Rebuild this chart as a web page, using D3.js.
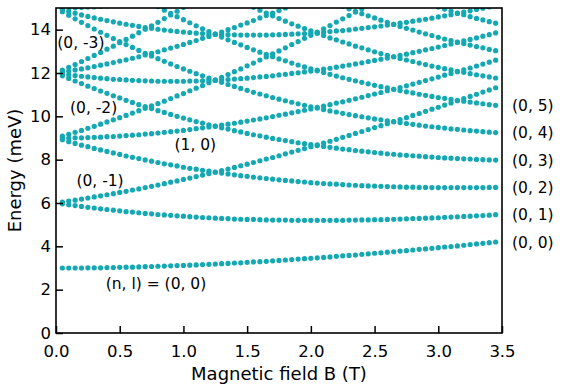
<!DOCTYPE html>
<html><head><meta charset="utf-8">
<script src="https://cdn.jsdelivr.net/npm/d3@7"></script>
<style>
body{margin:0;background:#fff}
svg{display:block}
text{font-family:"DejaVu Sans",sans-serif;fill:#000}
</style>
</head><body>
<svg id="c" width="562" height="392"></svg>
<script>
// Magnetic field values (T) of the plotted points
const B = [0.05,0.10,0.15,0.20,0.25,0.30,0.35,0.40,0.45,0.50,
0.55,0.60,0.65,0.70,0.75,0.80,0.85,0.90,0.95,1.00,
1.05,1.10,1.15,1.20,1.25,1.30,1.35,1.40,1.45,1.50,
1.55,1.60,1.65,1.70,1.75,1.80,1.85,1.90,1.95,2.00,
2.05,2.10,2.15,2.20,2.25,2.30,2.35,2.40,2.45,2.50,
2.55,2.60,2.65,2.70,2.75,2.80,2.85,2.90,2.95,3.00,
3.05,3.10,3.15,3.20,3.25,3.30,3.35,3.40,3.45];

// Energy levels (meV), each starting at index "from" of B
const E_0_0 = [3.00,3.00,3.00,3.00,3.01,3.01,3.01,3.02,3.02,3.03,
3.04,3.04,3.05,3.06,3.07,3.08,3.09,3.10,3.11,3.12,
3.13,3.14,3.16,3.17,3.18,3.20,3.21,3.23,3.24,3.26,
3.28,3.29,3.31,3.33,3.35,3.37,3.39,3.41,3.43,3.45,
3.47,3.49,3.51,3.54,3.56,3.58,3.60,3.63,3.65,3.68,
3.70,3.73,3.75,3.78,3.80,3.83,3.86,3.88,3.91,3.94,
3.97,3.99,4.02,4.05,4.08,4.11,4.14,4.17,4.20];
const E_0_1 = [5.96,5.92,5.88,5.84,5.80,5.77,5.73,5.70,5.67,5.64,
5.60,5.58,5.55,5.52,5.50,5.47,5.45,5.43,5.41,5.39,
5.37,5.35,5.33,5.32,5.30,5.29,5.28,5.26,5.25,5.24,
5.24,5.23,5.22,5.21,5.21,5.21,5.20,5.20,5.20,5.20,
5.20,5.20,5.20,5.20,5.20,5.21,5.21,5.22,5.22,5.23,
5.23,5.24,5.25,5.26,5.27,5.28,5.29,5.30,5.31,5.32,
5.34,5.35,5.36,5.38,5.39,5.41,5.42,5.44,5.46];
const E_0_2 = [8.92,8.83,8.75,8.67,8.60,8.52,8.45,8.38,8.31,8.24,
8.17,8.11,8.05,7.99,7.93,7.87,7.81,7.76,7.71,7.65,
7.60,7.56,7.51,7.47,7.42,7.38,7.34,7.30,7.26,7.23,
7.19,7.16,7.13,7.10,7.07,7.04,7.02,6.99,6.97,6.94,
6.92,6.90,6.88,6.87,6.85,6.83,6.82,6.80,6.79,6.78,
6.77,6.76,6.75,6.74,6.73,6.73,6.72,6.72,6.71,6.71,
6.71,6.71,6.71,6.71,6.71,6.71,6.71,6.72,6.72];
const E_0_3 = [11.87,11.75,11.63,11.51,11.39,11.28,11.17,11.06,10.95,10.85,
10.74,10.64,10.54,10.45,10.36,10.26,10.18,10.09,10.00,9.92,
9.84,9.76,9.69,9.61,9.54,9.47,9.41,9.34,9.28,9.21,
9.15,9.10,9.04,8.98,8.93,8.88,8.83,8.78,8.74,8.69,
8.65,8.61,8.57,8.53,8.49,8.46,8.42,8.39,8.36,8.33,
8.30,8.27,8.25,8.22,8.20,8.18,8.16,8.14,8.12,8.10,
8.08,8.07,8.05,8.04,8.03,8.01,8.00,7.99,7.98];
const E_0_4 = [14.83,14.67,14.50,14.34,14.19,14.03,13.88,13.74,13.59,13.45,
13.31,13.18,13.04,12.91,12.79,12.66,12.54,12.42,12.30,12.19,
12.08,11.97,11.87,11.76,11.66,11.57,11.47,11.38,11.29,11.20,
11.11,11.03,10.95,10.87,10.79,10.72,10.65,10.58,10.51,10.44,
10.38,10.31,10.25,10.20,10.14,10.08,10.03,9.98,9.93,9.88,
9.84,9.79,9.75,9.71,9.67,9.63,9.59,9.55,9.52,9.49,
9.46,9.42,9.40,9.37,9.34,9.32,9.29,9.27,9.25];
const E_0_5 = [15.06,14.90,14.75,14.60,14.46,14.32,14.18,14.04,13.91,13.78,
13.66,13.53,13.41,13.30,13.18,13.07,12.96,12.86,12.75,12.65,
12.56,12.46,12.37,12.28,12.19,12.10,12.02,11.94,11.86,11.78,
11.71,11.64,11.57,11.50,11.43,11.37,11.31,11.25,11.19,11.13,
11.08,11.02,10.97,10.92,10.87,10.83,10.78,10.74,10.70,10.66,
10.62,10.58,10.54,10.51];
const E_0_6 = [15.03,14.90,14.77,14.64,14.51,14.39,14.27,14.16,14.05,13.94,
13.83,13.73,13.62,13.53,13.43,13.34,13.24,13.16,13.07,12.98,
12.90,12.82,12.75,12.67,12.60,12.53,12.46,12.39,12.32,12.26,
12.20,12.14,12.08,12.03,11.97,11.92,11.87,11.82,11.77];
const E_0_7 = [15.07,14.96,14.85,14.74,14.64,14.54,14.44,14.34,14.24,14.15,
14.06,13.98,13.89,13.81,13.73,13.65,13.57,13.50,13.43,13.36,
13.29,13.22,13.16,13.09,13.03];
const E_0_8 = [15.04,14.95,14.86,14.77,14.69,14.60,14.52,14.45,14.37,14.30];
const E_0_m1 = [6.04,6.09,6.13,6.18,6.23,6.28,6.33,6.38,6.43,6.49,
6.54,6.60,6.65,6.71,6.77,6.83,6.89,6.96,7.02,7.09,
7.15,7.22,7.29,7.36,7.43,7.50,7.57,7.64,7.72,7.79,
7.87,7.95,8.03,8.10,8.18,8.27,8.35,8.43,8.51,8.60,
8.68,8.77,8.85,8.94,9.03,9.12,9.21,9.30,9.39,9.48,
9.57,9.66,9.76,9.85,9.94,10.04,10.13,10.23,10.33,10.42,
10.52,10.62,10.72,10.82,10.92,11.02,11.12,11.22,11.32];
const E_0_m2 = [9.09,9.17,9.26,9.35,9.45,9.54,9.64,9.74,9.84,9.94,
10.04,10.15,10.26,10.37,10.48,10.59,10.70,10.82,10.94,11.05,
11.18,11.30,11.42,11.55,11.67,11.80,11.93,12.06,12.19,12.33,
12.46,12.60,12.74,12.88,13.02,13.16,13.31,13.45,13.60,13.74,
13.89,14.04,14.19,14.35,14.50,14.65,14.81,14.96];
const E_0_m3 = [12.13,12.26,12.39,12.53,12.67,12.81,12.95,13.10,13.24,13.40,
13.55,13.70,13.86,14.02,14.18,14.34,14.51,14.68,14.85,15.02];
const E_1_0 = [9.00,9.00,9.01,9.01,9.02,9.03,9.04,9.06,9.07,9.09,
9.11,9.13,9.15,9.18,9.20,9.23,9.26,9.29,9.32,9.35,
9.39,9.43,9.47,9.51,9.55,9.59,9.64,9.68,9.73,9.78,
9.83,9.88,9.93,9.99,10.05,10.10,10.16,10.22,10.28,10.34,
10.41,10.47,10.54,10.61,10.67,10.74,10.81,10.88,10.96,11.03,
11.10,11.18,11.25,11.33,11.41,11.49,11.57,11.65,11.73,11.81,
11.90,11.98,12.06,12.15,12.23,12.32,12.41,12.50,12.59];
const E_1_1 = [11.96,11.92,11.88,11.85,11.82,11.79,11.76,11.74,11.71,11.70,
11.68,11.66,11.65,11.64,11.63,11.62,11.62,11.62,11.62,11.62,
11.63,11.63,11.64,11.65,11.67,11.68,11.70,11.72,11.74,11.76,
11.79,11.82,11.84,11.87,11.91,11.94,11.98,12.01,12.05,12.09,
12.13,12.18,12.22,12.27,12.32,12.37,12.42,12.47,12.53,12.58,
12.64,12.69,12.75,12.81,12.87,12.94,13.00,13.07,13.13,13.20,
13.27,13.34,13.41,13.48,13.55,13.62,13.70,13.77,13.85];
const E_1_2 = [14.92,14.84,14.76,14.68,14.61,14.54,14.48,14.42,14.36,14.30,
14.25,14.20,14.15,14.10,14.06,14.02,13.98,13.95,13.92,13.89,
13.87,13.84,13.82,13.80,13.79,13.78,13.77,13.76,13.75,13.75,
13.75,13.75,13.75,13.76,13.77,13.78,13.79,13.81,13.82,13.84,
13.86,13.88,13.91,13.94,13.96,13.99,14.03,14.06,14.10,14.13,
14.17,14.21,14.25,14.30,14.34,14.39,14.44,14.48,14.53,14.59,
14.64,14.69,14.75,14.81,14.87,14.93,14.99,15.05,15.11];
const E_1_m1 = [12.04,12.09,12.14,12.19,12.24,12.30,12.36,12.42,12.48,12.55,
12.61,12.68,12.75,12.83,12.91,12.98,13.07,13.15,13.23,13.32,
13.41,13.50,13.60,13.69,13.79,13.89,14.00,14.10,14.21,14.31,
14.42,14.54,14.65,14.76,14.88,15.00];
const E_2_0 = [15.00,15.01,15.01,15.02,15.04,15.05,15.07,15.10];

const series = [
  {n:0,l:0,from:0,values:E_0_0},
  {n:0,l:1,from:0,values:E_0_1},
  {n:0,l:2,from:0,values:E_0_2},
  {n:0,l:3,from:0,values:E_0_3},
  {n:0,l:4,from:0,values:E_0_4},
  {n:0,l:5,from:15,values:E_0_5},
  {n:0,l:6,from:30,values:E_0_6},
  {n:0,l:7,from:44,values:E_0_7},
  {n:0,l:8,from:59,values:E_0_8},
  {n:0,l:-1,from:0,values:E_0_m1},
  {n:0,l:-2,from:0,values:E_0_m2},
  {n:0,l:-3,from:0,values:E_0_m3},
  {n:1,l:0,from:0,values:E_1_0},
  {n:1,l:1,from:0,values:E_1_1},
  {n:1,l:2,from:0,values:E_1_2},
  {n:1,l:-1,from:0,values:E_1_m1},
  {n:2,l:0,from:0,values:E_2_0}
];

// Tick values / labels
const xTickValues = [0,0.5,1.0,1.5,2.0,2.5,3.0,3.5];
const xTickLabels = ["0.0","0.5","1.0","1.5","2.0","2.5","3.0","3.5"];
const yTickValues = [0,2,4,6,8,10,12,14];
const yTickLabels = ["0","2","4","6","8","10","12","14"];

// Labels at the right end of levels
const rightLabelLevels = [0,1,2,3,4,5];
// Labels placed inside the plot (data coordinates: B, E at baseline)
const innerLabels = [
  {text:"(0, -3)", B:0.01, E:13.17},
  {text:"(0, -2)", B:0.11, E:10.17},
  {text:"(1, 0)", B:0.93, E:8.46},
  {text:"(0, -1)", B:0.16, E:6.79},
  {text:"(n, l) = (0, 0)", B:0.39, E:2.03}
];

const svg = d3.select("#c");
const L=56, R=502, T=8, Bt=333;
const x = d3.scaleLinear().domain([0,3.5]).range([L,R]);
const y = d3.scaleLinear().domain([0,15]).range([Bt,T]);
const dotColor = "#14a8b2";

svg.append("defs").append("clipPath").attr("id","clip")
  .append("rect").attr("x",L).attr("y",T).attr("width",R-L).attr("height",Bt-T);

const pts = [];
series.forEach(s => s.values.forEach((v,j) => {
  if (v !== null) pts.push({b:B[s.from+j], e:v});
}));
svg.append("g").attr("clip-path","url(#clip)")
  .selectAll("circle").data(pts).join("circle")
  .attr("cx",d=>x(d.b)).attr("cy",d=>y(d.e)).attr("r",2.6)
  .attr("fill",dotColor);

// axes
const xAxis = d3.axisBottom(x).tickValues(xTickValues)
  .tickFormat((d,i)=>xTickLabels[i]).tickSizeInner(-7).tickSizeOuter(0).tickPadding(12);
const gx = svg.append("g").attr("transform",`translate(0,${Bt})`).call(xAxis);
const yAxis = d3.axisLeft(y).tickValues(yTickValues)
  .tickFormat((d,i)=>yTickLabels[i]).tickSizeInner(-7).tickSizeOuter(0).tickPadding(5);
const gy = svg.append("g").attr("transform",`translate(${L},0)`).call(yAxis);
[gx,gy].forEach(g=>{
  g.select(".domain").remove();
  g.selectAll(".tick line").attr("stroke","#000").attr("stroke-width",1.5);
  g.selectAll(".tick text").attr("font-size","16.5px").attr("font-family","DejaVu Sans").attr("fill","#000");
});

svg.append("rect").attr("x",L).attr("y",T).attr("width",R-L).attr("height",Bt-T)
  .attr("fill","none").attr("stroke","#000").attr("stroke-width",1.6);

// axis titles
svg.append("text").attr("x",(L+R)/2).attr("y",380).attr("text-anchor","middle")
  .attr("font-size","18px").text("Magnetic field B (T)");
svg.append("text").attr("transform",`translate(21,${(T+Bt)/2}) rotate(-90)`)
  .attr("text-anchor","middle").attr("font-size","18px").text("Energy (meV)");

// right labels
rightLabelLevels.forEach(l=>{
  const s = series.find(d=>d.n===0 && d.l===l);
  const last = s.values[s.values.length-1];
  svg.append("text").attr("x",R+10).attr("y",y(last)).attr("dy","0.36em")
    .attr("font-size","15.5px").text(`(0, ${l})`);
});
// inner labels
innerLabels.forEach(a=>{
  svg.append("text").attr("x",x(a.B)).attr("y",y(a.E))
    .attr("font-size","15.5px").text(a.text);
});
</script>
</body></html>
